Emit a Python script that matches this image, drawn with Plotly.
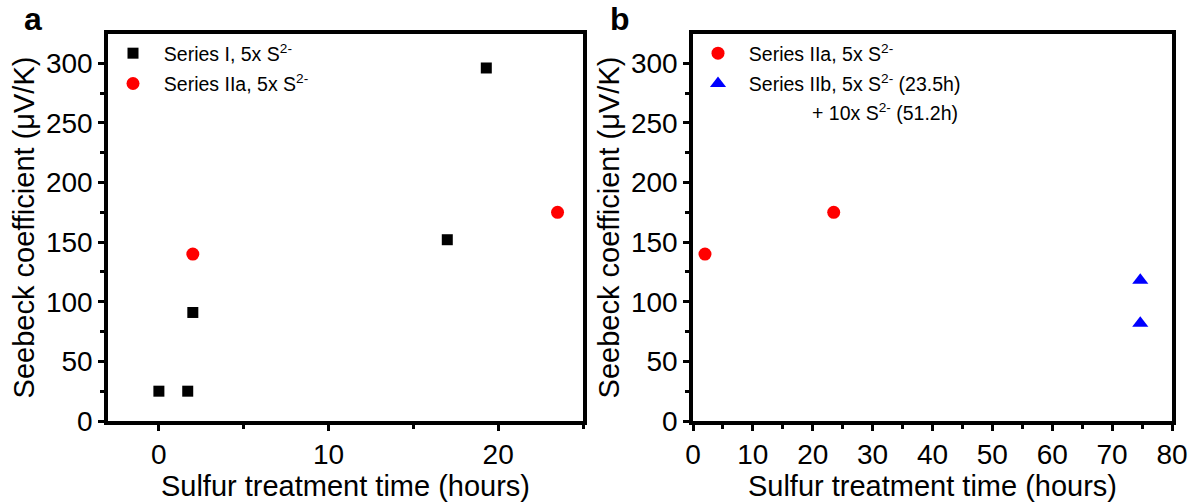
import plotly.graph_objects as go

# ---- data ----
series1_x = [0, 1.7, 2.0, 17.0, 19.3]
series1_y = [25, 25, 91, 152, 296]
series2a_x = [2.0, 23.5]
series2a_y = [140, 175]
series2b_x = [74.7, 74.7]
series2b_y = [118, 82]

SP = "\u00a0\u00a0"
name1 = SP + "Series I, 5x S<sup>2-</sup>"
name2a = SP + "Series IIa, 5x S<sup>2-</sup>"
name2b = SP + "Series IIb, 5x S<sup>2-</sup> (23.5h)"
name2b_line2 = "+ 10x S<sup>2-</sup> (51.2h)"

FONT = "Arial, 'Liberation Sans', sans-serif"
W, H = 1193, 502
LEG_SIZE = 19.5
TICK_SIZE = 28
TITLE_SIZE = 29

fig = go.Figure()
fig.add_trace(go.Scatter(x=series1_x, y=series1_y, mode="markers", name=name1,
                         marker=dict(symbol="square", size=11, color="black"),
                         xaxis="x", yaxis="y", legend="legend", legendgroup="a1"))
fig.add_trace(go.Scatter(x=series2a_x, y=series2a_y, mode="markers", name=name2a,
                         marker=dict(symbol="circle", size=13, color="#ff0000"),
                         xaxis="x", yaxis="y", legend="legend", legendgroup="a2"))
fig.add_trace(go.Scatter(x=series2a_x, y=series2a_y, mode="markers", name=name2a,
                         marker=dict(symbol="circle", size=13, color="#ff0000"),
                         xaxis="x2", yaxis="y2", legend="legend2", legendgroup="b1"))
fig.add_trace(go.Scatter(x=series2b_x, y=series2b_y, mode="markers", name=name2b,
                         marker=dict(symbol="triangle-up", size=14, color="#0000ff"),
                         xaxis="x2", yaxis="y2", legend="legend2", legendgroup="b2"))

ydom = [81 / H, 468 / H]
axis_common = dict(showline=True, linewidth=3.5, linecolor="black", mirror=True,
                   ticks="outside", ticklen=6, tickwidth=3, tickcolor="black",
                   showgrid=False, zeroline=False,
                   tickfont=dict(family=FONT, size=TICK_SIZE, color="black"),
                   automargin=False)
minor_common = dict(ticks="outside", ticklen=4, tickwidth=3, tickcolor="black", showgrid=False)
title_font = dict(family=FONT, size=TITLE_SIZE, color="black")

fig.update_layout(
    width=W, height=H,
    margin=dict(l=0, r=0, t=0, b=0),
    plot_bgcolor="white", paper_bgcolor="white",
    font=dict(family=FONT, color="black"),
    xaxis=dict(domain=[108 / W, 583 / W], range=[-3, 25], tickvals=[0, 10, 20],
               minor=dict(tickvals=[5, 15, 25], **minor_common),
               title=dict(text="Sulfur treatment time (hours)", font=title_font, standoff=4),
               anchor="y", **axis_common),
    yaxis=dict(domain=ydom, range=[0, 324.5], tickvals=[0, 50, 100, 150, 200, 250, 300],
               minor=dict(tickvals=[25, 75, 125, 175, 225, 275], **minor_common),
               title=dict(text="Seebeck coefficient (\u03bcV/K)", font=title_font, standoff=4),
               anchor="x", **axis_common),
    xaxis2=dict(domain=[693 / W, 1172 / W], range=[0, 80], tickvals=list(range(0, 81, 10)),
                minor=dict(tickvals=list(range(5, 80, 10)), **minor_common),
                title=dict(text="Sulfur treatment time (hours)", font=title_font, standoff=4),
                anchor="y2", **axis_common),
    yaxis2=dict(domain=ydom, range=[0, 324.5], tickvals=[0, 50, 100, 150, 200, 250, 300],
                minor=dict(tickvals=[25, 75, 125, 175, 225, 275], **minor_common),
                title=dict(text="Seebeck coefficient (\u03bcV/K)", font=title_font, standoff=4),
                anchor="x2", **axis_common),
    legend=dict(x=113 / W, y=1 - 34 / H, xanchor="left", yanchor="top",
                bgcolor="rgba(0,0,0,0)", font=dict(family=FONT, size=LEG_SIZE),
                tracegroupgap=2, valign="middle"),
    legend2=dict(x=698 / W, y=1 - 34 / H, xanchor="left", yanchor="top",
                 bgcolor="rgba(0,0,0,0)", font=dict(family=FONT, size=LEG_SIZE),
                 tracegroupgap=2, valign="middle"),
    showlegend=True,
)

fig.add_annotation(text=name2b_line2, x=810 / W, y=1 - 112 / H, xref="paper", yref="paper",
                   xanchor="left", yanchor="middle", showarrow=False,
                   font=dict(family=FONT, size=LEG_SIZE, color="black"))
fig.add_annotation(text="<b>a</b>", x=33 / W, y=1 - 19 / H, xref="paper", yref="paper",
                   xanchor="center", yanchor="middle",
                   showarrow=False, font=dict(family=FONT, size=32, color="black"))
fig.add_annotation(text="<b>b</b>", x=620 / W, y=1 - 19 / H, xref="paper", yref="paper",
                   xanchor="center", yanchor="middle",
                   showarrow=False, font=dict(family=FONT, size=32, color="black"))

fig.write_html("out.html", config={"displayModeBar": False},
               post_script="document.body.style.margin='0';document.body.style.overflow='hidden';")
